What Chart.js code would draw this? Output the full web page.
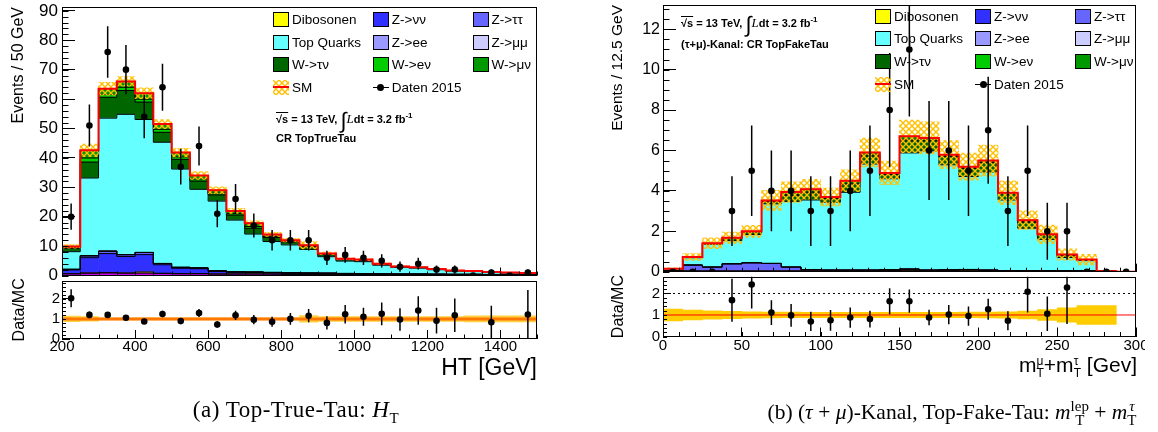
<!DOCTYPE html>
<html>
<head>
<meta charset="utf-8">
<script src="https://cdn.jsdelivr.net/npm/chart.js@4.4.1/dist/chart.umd.min.js"></script>
<style>
  body { margin: 0; background: #fff; }
  #page { position: relative; width: 1158px; height: 432px; overflow: hidden; font-family: "Liberation Sans", Arial, sans-serif; color: #000; }
  canvas { position: absolute; }
  .item { position: absolute; height: 16px; display: flex; align-items: center; font-size: 13.5px; white-space: nowrap; }
  .swatch { width: 16px; height: 15px; border: 1px solid #000; box-sizing: border-box; margin-right: 3px; position: relative; flex: none; }
  .note { position: absolute; font-weight: bold; font-size: 11px; white-space: nowrap; line-height: 14px; }
  .note .int { font-size: 22px; font-weight: normal; vertical-align: -5px; }
  .note i { font-family: "Liberation Serif", serif; font-size: 13px; font-weight: normal; }
  .note sup { font-size: 8px; }
  .sqrt { text-decoration: overline; }
  .xtitle { position: absolute; font-size: 21px; white-space: nowrap; line-height: 26px; }
  .ss { display: inline-block; vertical-align: -5px; font-size: 12px; line-height: 12px; }
  .ss span { display: block; }
  .caption { position: absolute; width: 460px; text-align: center; font-family: "Liberation Serif", "Times New Roman", serif; font-size: 22px; line-height: 22px; white-space: nowrap; }
  .caption .ss { font-size: 15px; line-height: 14px; vertical-align: -6px; }
</style>
</head>
<body>
<div id="page">
  <canvas id="htMain" width="545" height="282" style="left:0;top:0"></canvas>
  <canvas id="htRatio" width="545" height="112" style="left:0;top:276px"></canvas>
  <canvas id="mtMain" width="545" height="276" style="left:600px;top:0"></canvas>
  <canvas id="mtRatio" width="545" height="118" style="left:600px;top:272px"></canvas>

  <div class="note" style="left:276px;top:109px"><span class="sqrt">√s</span> = 13 TeV, <span class="int">∫</span><i>L</i>dt = 3.2 fb<sup>-1</sup></div>
  <div class="note" style="left:276px;top:131px">CR TopTrueTau</div>
  <div class="note" style="left:681px;top:13px"><span class="sqrt">√s</span> = 13 TeV, <span class="int">∫</span><i>L</i>dt = 3.2 fb<sup>-1</sup></div>
  <div class="note" style="left:681px;top:37px">(τ+μ)-Kanal: CR TopFakeTau</div>

  <div class="xtitle" style="right:21px;top:352px">m<span class="ss"><span>μ</span><span>T</span></span>+m<span class="ss"><span>τ</span><span>T</span></span> [Gev]</div>

  <div class="caption" style="left:66px;top:399px;font-size:23px;letter-spacing:0.5px">(a) Top-True-Tau: <i>H</i><sub style="font-size:15px">T</sub></div>
  <div class="caption" style="left:722px;top:399px;font-size:21.5px">(b) (<i>τ</i> + <i>μ</i>)-Kanal, Top-Fake-Tau: <i>m</i><span class="ss"><span>lep</span><span>T</span></span> + <i>m</i><span class="ss"><span><i>τ</i></span><span>T</span></span></div>
</div>

<script>
// stacked MC components, bottom to top
const componentNames = ["", "Dibosonen", "Z->νν", "Z->ττ", "Z->ee", "Z->μμ", "Top Quarks", "W->τν", "W->eν", "W->μν"]
const componentColors = ["#cc00ee", "#ffff00", "#3030ff", "#6666ff", "#9999ff", "#ccccff", "#66ffff", "#006600", "#00cc00", "#009900"]

// (a) HT, 50 GeV bins
const htEdges = [200, 250, 300, 350, 400, 450, 500, 550, 600, 650, 700, 750, 800, 850, 900, 950, 1000, 1050, 1100, 1150, 1200, 1250, 1300, 1350, 1400, 1450, 1500]
const htOther = [0.6, 0.8, 0.9, 0.8, 0.8, 0.7, 0.6, 0.6, 0.5, 0.5, 0.5, 0.5, 0.4, 0.4, 0.4, 0.35, 0.35, 0.3, 0.3, 0.3, 0.3, 0.3, 0.3, 0.3, 0.3, 0.3]
const htDiboson = [0, 0.05, 0.05, 0.05, 0.4, 0.05, 0.05, 0.05, 0.05, 0, 0.05, 0, 0, 0, 0, 0, 0, 0, 0, 0, 0, 0, 0, 0, 0, 0]
const htZnunu = [1.3, 5.2, 6.5, 5.6, 5.9, 2.9, 1.8, 1.65, 0.85, 0.6, 0.5, 0.45, 0.4, 0.35, 0.3, 0.25, 0.25, 0.2, 0.15, 0.15, 0.1, 0.1, 0.1, 0.05, 0.05, 0.05]
const htZtautau = [0.2, 0.6, 0.8, 0.6, 0.7, 0.4, 0.3, 0.25, 0.2, 0.15, 0.15, 0.1, 0.1, 0.1, 0.1, 0.1, 0.05, 0.05, 0.05, 0.05, 0.05, 0, 0, 0, 0, 0]
const htZee = [0, 0.05, 0.05, 0.05, 0.05, 0.05, 0.05, 0.05, 0, 0, 0, 0, 0, 0, 0, 0, 0, 0, 0, 0, 0, 0, 0, 0, 0, 0]
const htZmumu = [0, 0.05, 0, 0, 0, 0, 0, 0, 0, 0, 0, 0, 0, 0, 0, 0, 0, 0, 0, 0, 0, 0, 0, 0, 0, 0]
const htTop = [6.0, 26.4, 45.2, 47.7, 45.2, 41.2, 33.4, 26.7, 23.7, 17.6, 12.9, 10.5, 9.5, 8.0, 5.6, 4.2, 4.05, 2.95, 2.25, 2.0, 1.5, 1.1, 0.95, 0.75, 0.57, 0.42]
const htWtaunu = [1.15, 5.4, 7.1, 8.1, 5.9, 3.4, 3.3, 2.8, 2.1, 1.7, 1.95, 1.4, 1.0, 0.9, 0.7, 0.5, 0.45, 0.35, 0.25, 0.2, 0.2, 0.15, 0.1, 0.07, 0.05, 0.03]
const htWenu = [0.2, 1.4, 1.0, 1.1, 1.0, 1.0, 0.8, 0.7, 0.6, 0.5, 0.6, 0.35, 0.2, 0.15, 0.1, 0.1, 0.05, 0.05, 0, 0, 0, 0, 0, 0, 0, 0]
const htWmunu = [0.45, 2.6, 1.9, 2.0, 2.0, 1.8, 1.5, 1.2, 1.0, 0.9, 1.15, 0.65, 0.4, 0.4, 0.3, 0.2, 0.2, 0.1, 0.1, 0.1, 0.05, 0.05, 0.05, 0.03, 0.03, 0.02]
const htUnc = [0.06, 0.05, 0.035, 0.025, 0.03, 0.03, 0.035, 0.04, 0.04, 0.04, 0.045, 0.05, 0.05, 0.12, 0.06, 0.06, 0.06, 0.06, 0.06, 0.06, 0.06, 0.06, 0.08, 0.08, 0.08, 0.08]
const htData = [20, 51, 76, 70, 54, 64, 37, 44, 21, 26, 17, 12, 12, 12, 6, 7, 6, 5, 3, 4, 2, 2, 0, 1, 0, 1]
const htDataErr = [4.47, 7.14, 8.72, 8.37, 7.35, 8, 6.08, 6.63, 4.58, 5.1, 4.12, 3.46, 3.46, 3.46, 2.45, 2.65, 2.45, 2.24, 1.73, 2, 1.41, 1.41, 0, 1, 0, 1]
const htRatio = [2.03, 1.2, 1.2, 1.06, 0.87, 1.24, 0.89, 1.29, 0.72, 1.18, 0.96, 0.86, 1.0, 1.16, 0.8, 1.23, 1.11, 1.25, 0.97, 1.42, 0.91, 1.18, null, 0.83, null, 1.22]
const htRatioErr = [0.45, 0.17, 0.14, 0.13, 0.12, 0.16, 0.15, 0.2, 0.16, 0.23, 0.23, 0.25, 0.29, 0.33, 0.33, 0.46, 0.45, 0.56, 0.56, 0.71, 0.64, 0.83, null, 0.83, null, 1.22]
const htRatioBand = [0.14, 0.11, 0.05, 0.05, 0.05, 0.05, 0.05, 0.05, 0.05, 0.05, 0.05, 0.05, 0.05, 0.16, 0.12, 0.12, 0.12, 0.12, 0.12, 0.12, 0.12, 0.12, 0.15, 0.15, 0.15, 0.15]

// (b) mT(mu) + mT(tau), 12.5 GeV bins
const mtEdges = [0, 12.5, 25, 37.5, 50, 62.5, 75, 87.5, 100, 112.5, 125, 137.5, 150, 162.5, 175, 187.5, 200, 212.5, 225, 237.5, 250, 262.5, 275, 287.5, 300]
const mtOther = [0.03, 0.03, 0.03, 0.03, 0.03, 0.03, 0.03, 0.03, 0.03, 0.03, 0.03, 0.03, 0.03, 0.03, 0.03, 0.03, 0.03, 0.03, 0.03, 0.03, 0.03, 0.03, 0.02, 0]
const mtDiboson = [0, 0, 0, 0, 0, 0, 0, 0, 0, 0, 0, 0.02, 0.05, 0.02, 0.03, 0.05, 0.02, 0, 0, 0, 0, 0, 0, 0]
const mtZnunu = [0, 0, 0, 0, 0, 0, 0, 0, 0, 0, 0, 0, 0, 0, 0, 0, 0, 0, 0, 0, 0, 0, 0, 0]
const mtZtautau = [0.02, 0.3, 0.2, 0.36, 0.41, 0.38, 0.2, 0.07, 0.05, 0.05, 0.05, 0.05, 0.05, 0.03, 0.03, 0.03, 0.03, 0.02, 0.02, 0.02, 0.02, 0.02, 0, 0]
const mtZee = [0, 0, 0, 0, 0, 0, 0, 0, 0, 0, 0, 0, 0, 0, 0, 0, 0, 0, 0, 0, 0, 0, 0, 0]
const mtZmumu = [0, 0, 0, 0, 0, 0, 0, 0, 0, 0, 0, 0, 0, 0, 0, 0, 0, 0, 0, 0, 0, 0, 0, 0]
const mtTop = [0.1, 0.36, 1.12, 1.15, 1.4, 2.95, 3.25, 3.45, 3.35, 3.85, 5.25, 4.5, 5.75, 5.9, 5.2, 4.6, 4.85, 3.5, 2.1, 1.55, 0.65, 0.5, 0, 0]
const mtWtaunu = [0, 0.04, 0.02, 0.1, 0.1, 0.1, 0.3, 0.35, 0.2, 0.4, 0.4, 0.2, 0.6, 0.5, 0.4, 0.4, 0.45, 0.3, 0.3, 0.2, 0.1, 0.05, 0, 0]
const mtWenu = [0, 0, 0.02, 0.01, 0.02, 0.02, 0.05, 0.05, 0.02, 0.05, 0.05, 0.03, 0.07, 0.04, 0.03, 0.03, 0.04, 0.02, 0.03, 0.02, 0.02, 0, 0, 0]
const mtWmunu = [0, 0, 0.02, 0.03, 0.04, 0.05, 0.11, 0.13, 0.05, 0.12, 0.12, 0.06, 0.15, 0.1, 0.07, 0.06, 0.08, 0.04, 0.07, 0.03, 0.03, 0, 0, 0]
const mtUnc = [0.27, 0.23, 0.19, 0.17, 0.15, 0.14, 0.13, 0.12, 0.12, 0.12, 0.12, 0.12, 0.12, 0.12, 0.12, 0.13, 0.14, 0.15, 0.18, 0.25, 0.33, 0.44, 0.44, 0]
const mtData = [0, 0, 0, 3, 5, 4, 4, 3, 3, 4, 5, 8, 11, 6, 6, 5, 7, 3, 5, 2, 2, 0, 0, 0]
const mtDataErr = [0, 0, 0, 1.73, 2.24, 2, 2, 1.73, 1.73, 2, 2.24, 2.83, 3.32, 2.45, 2.45, 2.24, 2.65, 1.73, 2.24, 1.41, 1.41, 0, 0, 0]
const mtRatio = [null, null, null, 1.69, 2.42, 1.11, 0.98, 0.7, 0.75, 0.88, 0.81, 1.64, 1.64, 0.88, 1.02, 0.95, 1.27, 0.73, 2.08, 1.06, 2.28, null, null, null]
const mtRatioErr = [null, null, null, 1.0, 1.12, 0.58, 0.53, 0.45, 0.48, 0.47, 0.39, 0.6, 0.54, 0.36, 0.45, 0.45, 0.49, 0.44, 0.97, 0.8, 1.7, null, null, null]

Chart.defaults.font.family = "'Liberation Sans', Arial, sans-serif"
Chart.defaults.color = "#000"

// yellow/orange cross hatch for the MC uncertainty
const hatchTile = document.createElement("canvas")
hatchTile.width = 6
hatchTile.height = 6
const tileCtx = hatchTile.getContext("2d")
tileCtx.strokeStyle = "#ffc000"
tileCtx.lineWidth = 1.4
tileCtx.beginPath()
tileCtx.moveTo(0, 0)
tileCtx.lineTo(6, 6)
tileCtx.moveTo(6, 0)
tileCtx.lineTo(0, 6)
tileCtx.stroke()
const hatch = tileCtx.createPattern(hatchTile, "repeat")

const centersOf = (edges) => edges.slice(1).map((e, i) => (edges[i] + e) / 2)
const points = (xs, ys) => ys.map((y, i) => ({x: xs[i], y}))
const ranges = (xs, ys, errs) => ys.map((y, i) => ({x: xs[i], y: y === null ? null : [y - errs[i], y + errs[i]]}))
// histogram outline as a step line over the bin edges
const steps = (edges, ys) => edges.map((x, i) => ({x, y: ys[Math.min(i, ys.length - 1)]}))

const framePlugin = {
  id: "frame",
  afterDraw(chart) {
    const {ctx, chartArea: a} = chart
    ctx.save()
    ctx.strokeStyle = "#000"
    ctx.lineWidth = 1
    ctx.strokeRect(Math.round(a.left) + 0.5, Math.round(a.top) + 0.5, Math.round(a.right - a.left) - 1, Math.round(a.bottom - a.top) - 1)
    ctx.restore()
  },
}

const minorTicksPlugin = {
  id: "minorTicks",
  afterDraw(chart, _args, opts) {
    const {ctx} = chart
    ctx.save()
    ctx.strokeStyle = "#000"
    ctx.lineWidth = 1
    ctx.beginPath()
    ;(opts.list || []).forEach(({axis, step, length}) => {
      const scale = chart.scales[axis]
      const first = Math.ceil(scale.min / step - 1e-6)
      const last = Math.floor(scale.max / step + 1e-6)
      for (let k = first; k <= last; k++) {
        const p = Math.round(scale.getPixelForValue(k * step)) + 0.5
        if (scale.isHorizontal()) {
          ctx.moveTo(p, scale.top)
          ctx.lineTo(p, scale.top - length)
        } else {
          ctx.moveTo(scale.right, p)
          ctx.lineTo(scale.right + length, p)
        }
      }
    })
    ctx.stroke()
    ctx.restore()
  },
}

const xAxis = ({min, max, step, size, tick, labels, padding, title}) => ({
  type: "linear",
  min,
  max,
  offset: false,
  afterFit: (s) => {
    s.height = size
    s.paddingLeft = 0
    s.paddingRight = 0
  },
  grid: {offset: false, drawOnChartArea: false, tickLength: -tick, tickColor: "#000"},
  border: {display: false},
  ticks: {
    display: labels,
    stepSize: step,
    includeBounds: false,
    autoSkip: false,
    maxRotation: 0,
    padding,
    font: {size: 15},
    callback: (v) => String(v),
  },
  title: title || {display: false},
})

const yAxis = ({min, max, step, size, tick, fontSize, padding, title}) => ({
  min,
  max,
  afterFit: (s) => {
    s.width = size
    s.paddingTop = 0
    s.paddingBottom = 0
  },
  grid: {drawOnChartArea: false, tickLength: -tick, tickColor: "#000"},
  border: {display: false},
  ticks: {stepSize: step, includeBounds: false, padding, font: {size: fontSize}, callback: (v) => String(v)},
  title,
})

const baseOptions = {
  responsive: false,
  animation: false,
  events: [],
}

const mainChart = (id, p) => {
  const centers = centersOf(p.edges)
  // running sums of the stack, used for the black outlines and the SM line
  const cumulative = p.stack.map((_, k) => centers.map((_, i) => p.stack.slice(0, k + 1).reduce((sum, values) => sum + values[i], 0)))
  const totals = cumulative[cumulative.length - 1]

  const datasets = p.stack.map((values, k) => ({
    label: componentNames[k],
    data: points(centers, values),
    backgroundColor: componentColors[k],
    borderWidth: 0,
    barPercentage: 1,
    categoryPercentage: 1,
    order: 10,
  }))

  cumulative.forEach((sums) => {
    datasets.push({
      type: "line",
      label: "outline",
      data: steps(p.edges, sums),
      borderColor: "#000",
      borderWidth: 1,
      stepped: "before",
      pointRadius: 0,
      yAxisID: "yu",
      order: 6,
    })
  })

  datasets.push(
    {
      label: "SM band",
      data: centers.map((x, i) => ({x, y: [totals[i] * (1 - p.unc[i]), totals[i] * (1 + p.unc[i])]})),
      backgroundColor: hatch,
      grouped: false,
      barPercentage: 1,
      categoryPercentage: 1,
      yAxisID: "yu",
      order: 3,
    },
    {
      type: "line",
      label: "SM",
      data: steps(p.edges, totals),
      borderColor: "#ff0000",
      borderWidth: 2,
      stepped: "before",
      pointRadius: 0,
      yAxisID: "yu",
      order: 2,
    },
    {
      label: "Daten err",
      data: ranges(centers, p.data, p.dataErr),
      backgroundColor: "#000",
      grouped: false,
      maxBarThickness: 1.5,
      yAxisID: "yu",
      order: 1,
    },
    {
      type: "line",
      label: "Daten 2015",
      data: points(centers, p.data),
      showLine: false,
      pointRadius: 3.3,
      pointBackgroundColor: "#000",
      pointBorderWidth: 0,
      yAxisID: "yu",
      order: 0,
    }
  )

  return new Chart(document.getElementById(id), {
    type: "bar",
    data: {datasets},
    options: {
      ...baseOptions,
      layout: {padding: p.padding},
      plugins: {legend: {display: false}, tooltip: {enabled: false}, minorTicks: {list: p.minor}},
      scales: {
        x: {...p.x, stacked: true},
        y: {...p.y, stacked: true},
        yu: {display: false, min: p.y.min, max: p.y.max},
      },
    },
    plugins: [framePlugin, minorTicksPlugin],
  })
}

const ratioChart = (id, p) => {
  const centers = centersOf(p.edges)
  const xMin = p.edges[0]
  const xMax = p.edges[p.edges.length - 1]

  const datasets = [
    {
      label: "MC unc",
      data: centers.map((x, i) => ({x, y: p.band[i] ? [1 - p.band[i], 1 + p.band[i]] : null})),
      backgroundColor: p.bandColor,
      barPercentage: 1,
      categoryPercentage: 1,
      order: 5,
    },
    ...p.refLines.map((line) => ({
      type: "line",
      label: "ref",
      data: [{x: xMin, y: line.y}, {x: xMax, y: line.y}],
      borderColor: line.color,
      borderWidth: line.width,
      borderDash: line.dash || [],
      pointRadius: 0,
      order: 4,
    })),
    {
      label: "ratio err",
      data: ranges(centers, p.ratio, p.ratioErr),
      backgroundColor: "#000",
      grouped: false,
      maxBarThickness: 1.5,
      order: 1,
    },
    {
      type: "line",
      label: "Data/MC",
      data: points(centers, p.ratio),
      showLine: false,
      pointRadius: 3.3,
      pointBackgroundColor: "#000",
      pointBorderWidth: 0,
      order: 0,
    },
  ]

  return new Chart(document.getElementById(id), {
    type: "bar",
    data: {datasets},
    options: {
      ...baseOptions,
      layout: {padding: p.padding},
      plugins: {legend: {display: false}, tooltip: {enabled: false}, minorTicks: {list: p.minor}},
      scales: {x: p.x, y: p.y},
    },
    plugins: [framePlugin, minorTicksPlugin],
  })
}

const htStack = [htOther, htDiboson, htZnunu, htZtautau, htZee, htZmumu, htTop, htWtaunu, htWenu, htWmunu]
const mtStack = [mtOther, mtDiboson, mtZnunu, mtZtautau, mtZee, mtZmumu, mtTop, mtWtaunu, mtWenu, mtWmunu]

const yTitle = (text, size, offset, align) => ({
  display: true,
  text,
  align,
  font: {size},
  padding: {top: offset, bottom: 0},
})

mainChart("htMain", {
  edges: htEdges,
  stack: htStack,
  unc: htUnc,
  data: htData,
  dataErr: htDataErr,
  padding: {top: 7, right: 8, left: 0, bottom: 0},
  x: xAxis({min: 200, max: 1500, step: 200, size: 6.5, tick: 8, labels: false, padding: 0}),
  y: yAxis({min: 0, max: 91.3, step: 10, size: 62, tick: 13, fontSize: 17, padding: 17, title: yTitle("Events / 50 GeV", 16, 8.7, "end")}),
  minor: [{axis: "x", step: 50, length: 4}, {axis: "y", step: 2, length: 6.5}],
})

ratioChart("htRatio", {
  edges: htEdges,
  ratio: htRatio,
  ratioErr: htRatioErr,
  band: htRatioBand,
  bandColor: "#ffd040",
  refLines: [{y: 1, color: "#ff7700", width: 3}],
  padding: {top: 4.7, right: 8, left: 0, bottom: 0},
  x: xAxis({
    min: 200, max: 1500, step: 200, size: 49, tick: 9, labels: true, padding: 8.3,
    title: {display: true, text: "HT [GeV]", align: "end", font: {size: 23}, padding: {top: 0, bottom: 6}},
  }),
  y: yAxis({min: 0, max: 2.9, step: 1, size: 62, tick: 8, fontSize: 15, padding: 10, title: yTitle("Data/MC", 16, 10, "center")}),
  minor: [{axis: "x", step: 50, length: 4.5}, {axis: "y", step: 0.2, length: 4}],
})

mainChart("mtMain", {
  edges: mtEdges,
  stack: mtStack,
  unc: mtUnc,
  data: mtData,
  dataErr: mtDataErr,
  padding: {top: 5, right: 9, left: 0, bottom: 0},
  x: xAxis({min: 0, max: 300, step: 50, size: 4.3, tick: 8, labels: false, padding: 0}),
  y: yAxis({min: 0, max: 13.2, step: 2, size: 63, tick: 13, fontSize: 16, padding: 16, title: yTitle("Events / 12.5 GeV", 15.5, 8.7, "end")}),
  minor: [{axis: "x", step: 10, length: 4}, {axis: "y", step: 0.5, length: 6.5}],
})

ratioChart("mtRatio", {
  edges: mtEdges,
  ratio: mtRatio,
  ratioErr: mtRatioErr,
  band: mtUnc,
  bandColor: "#ffcc00",
  refLines: [{y: 1, color: "#ff0000", width: 1}, {y: 2, color: "#000", width: 1, dash: [2, 3]}],
  padding: {top: 4.7, right: 9, left: 0, bottom: 0},
  x: xAxis({min: 0, max: 300, step: 50, size: 53.5, tick: 9, labels: true, padding: 9.2}),
  y: yAxis({min: 0, max: 2.78, step: 1, size: 63, tick: 8, fontSize: 15, padding: 11, title: yTitle("Data/MC", 16, 9, "center")}),
  minor: [{axis: "x", step: 10, length: 4.5}, {axis: "y", step: 0.2, length: 4}],
})

// legends, three columns like the ROOT TLegend
const legendRows = [
  ["Dibosonen", "Z->νν", "Z->ττ"],
  ["Top Quarks", "Z->ee", "Z->μμ"],
  ["W->τν", "W->eν", "W->μν"],
  ["SM", "Daten 2015"],
]

const swatchFor = (name) => {
  const el = document.createElement("span")
  el.className = "swatch"
  if (name === "SM") {
    el.style.border = "none"
    el.style.backgroundImage = `url(${hatchTile.toDataURL()})`
    el.innerHTML = '<span style="position:absolute;left:0;right:0;top:6.5px;height:2px;background:#ff0000"></span>'
  } else if (name === "Daten 2015") {
    el.style.border = "none"
    el.innerHTML = '<span style="position:absolute;left:0;right:0;top:7px;height:1px;background:#000"></span>' +
      '<span style="position:absolute;left:4.5px;top:4px;width:7px;height:7px;border-radius:50%;background:#000"></span>'
  } else {
    el.style.background = componentColors[componentNames.indexOf(name)]
  }
  return el
}

const makeLegend = (left, top, colGap, rowGap) => {
  const page = document.getElementById("page")
  legendRows.forEach((row, r) => {
    row.forEach((name, c) => {
      const item = document.createElement("div")
      item.className = "item"
      item.style.left = `${left + c * colGap}px`
      item.style.top = `${top + r * rowGap - 8}px`
      item.appendChild(swatchFor(name))
      item.appendChild(document.createTextNode(name))
      page.appendChild(item)
    })
  })
}

makeLegend(273, 19.3, 99.8, 22.7)
makeLegend(875, 16, 100, 22.8)
</script>
</body>
</html>
